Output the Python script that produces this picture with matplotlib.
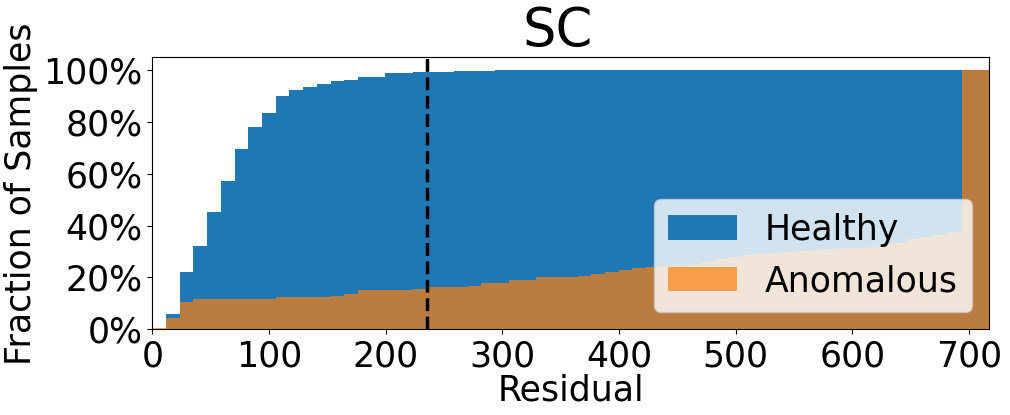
import numpy as np
import matplotlib
matplotlib.use('Agg')
import matplotlib.pyplot as plt
from matplotlib.ticker import PercentFormatter

# bin edges of the residual histogram (61 bins)
edges = np.linspace(0, 717, 62)

# cumulative fraction of samples per bin
healthy = [0.0, 6.1, 22.3, 32.0, 45.1, 57.1, 69.5, 78.0, 83.4, 90.0,
           92.3, 93.4, 94.6, 95.8, 96.2, 97.3, 97.3, 98.8, 98.8, 99.3,
           99.3, 99.3, 99.7, 99.7, 99.7] + [100.0] * 36
anomalous = [0.4, 4.4, 10.5, 11.6, 11.6, 11.6, 11.6, 11.6, 11.6, 12.4,
             12.4, 12.6, 12.6, 13.0, 13.8, 15.1, 15.1, 15.1, 15.3, 15.6,
             16.5, 16.5, 16.5, 16.9, 17.7, 17.7, 19.2, 19.2, 20.0, 20.0,
             20.0, 20.5, 21.3, 22.0, 22.8, 23.6, 24.1, 24.4, 24.7, 25.1,
             26.1, 27.0, 27.9, 28.5, 28.9, 29.4, 29.8, 30.2, 30.6, 31.0,
             31.3, 31.3, 31.9, 32.9, 33.5, 34.9, 35.8, 36.5, 37.5, 100.0,
             100.0]
threshold = 235.5

plt.rcParams['font.size'] = 25

fig, ax = plt.subplots(figsize=(10.1, 4.15), dpi=100)
fig.subplots_adjust(left=0.1508, right=0.9792, top=0.8619, bottom=0.2065)

ax.stairs(np.array(healthy) / 100, edges, fill=True, color='#1f77b4',
          lw=0, label='Healthy')
ax.stairs(np.array(anomalous) / 100, edges, fill=True, color='#ff7f0e',
          alpha=0.7, lw=0, label='Anomalous')
ax.axvline(threshold, color='black', linestyle='--', linewidth=2.5)

ax.set_xlim(0, 717)
ax.set_ylim(0, 1.05)
ax.set_yticks(np.arange(0, 1.01, 0.2))
ax.yaxis.set_major_formatter(PercentFormatter(1.0, decimals=0))
ax.set_xlabel('Residual', labelpad=0)
ax.set_ylabel('Fraction of Samples')
ax.set_title('SC', fontsize=38, x=0.4845)
ax.legend(loc='lower right')

fig.savefig('out.png', dpi=100)
